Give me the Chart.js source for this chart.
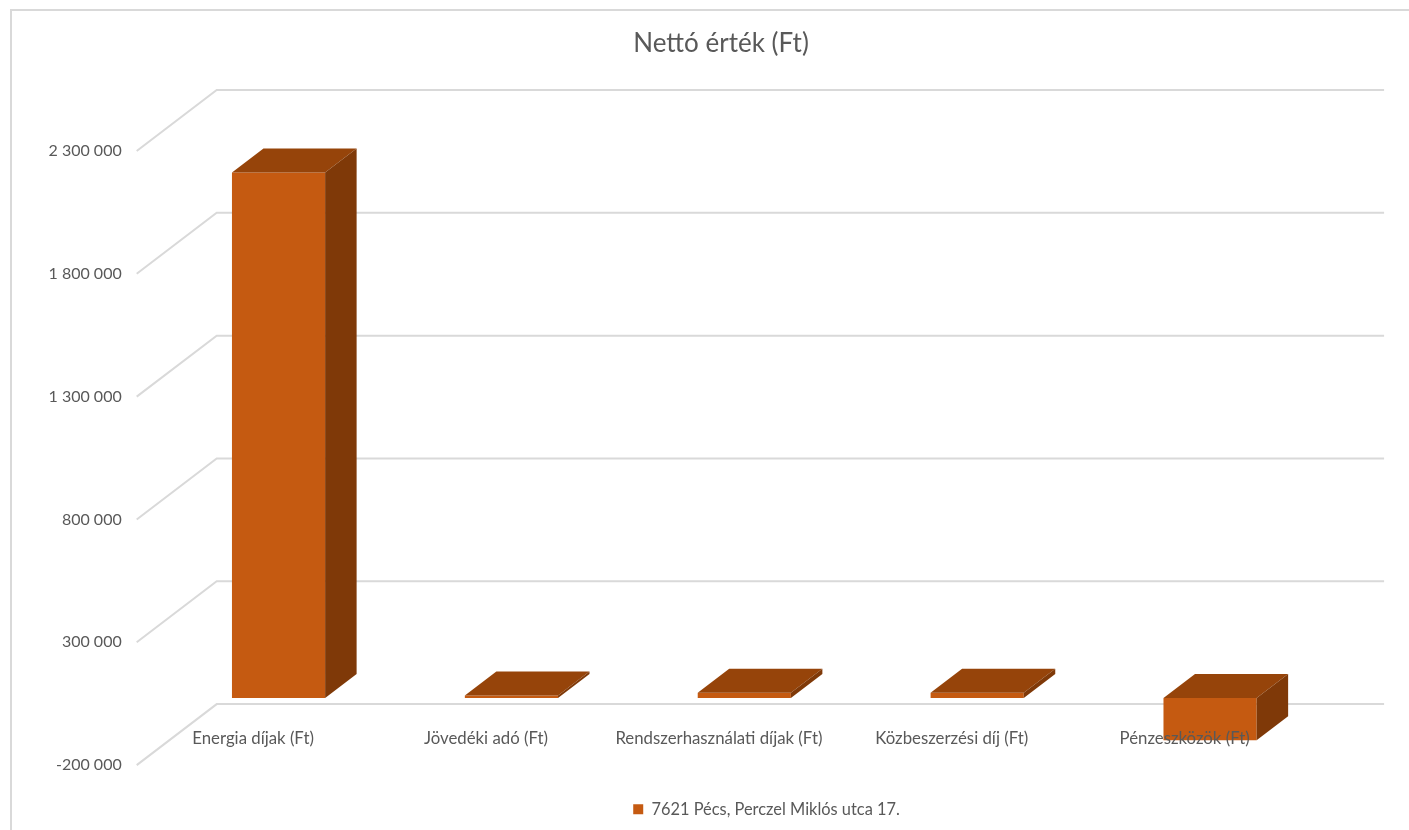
<!DOCTYPE html>
<html>
<head>
<meta charset="utf-8">
<title>Nettó érték (Ft)</title>
<script src="https://cdn.jsdelivr.net/npm/chart.js@4"></script>
<style>
    html, body { margin: 0; background: #fff; overflow: hidden; }
    #wrap { position: relative; width: 1409px; height: 830px; }
</style>
</head>
<body>
<div id="wrap"><canvas id="chart"></canvas></div>
<script>
const categories = ['Energia díjak (Ft)', 'Jövedéki adó (Ft)', 'Rendszerhasználati díjak (Ft)', 'Közbeszerzési díj (Ft)', 'Pénzeszközök (Ft)'];
const seriesName = '7621 Pécs, Perczel Miklós utca 17.';
const seriesValues = [2139000, 10000, 21500, 21000, -172000];
const yTicks = [-200000, 300000, 800000, 1300000, 1800000, 2300000];
const yTickLabels = ['-200 000', '300 000', '800 000', '1 300 000', '1 800 000', '2 300 000'];

const textColor = '#595959';
const gridColor = '#d9d9d9';
const frontColor = '#c55a11';
const topColor = '#96440a';
const sideColor = '#7f3908';

// fake 3D: wall sits behind the axis plane, bars sit part way in
const wallDepth = { x: 80, y: -61 };
const barOffset = { x: 25.4, y: -18 };
const barDepth = { x: 31.5, y: -24 };

function polygon(ctx, points, color) {
    ctx.fillStyle = color;
    ctx.beginPath();
    points.forEach((p, i) => i ? ctx.lineTo(p[0], p[1]) : ctx.moveTo(p[0], p[1]));
    ctx.closePath();
    ctx.fill();
}

const shiftBoxes = {
    id: 'shiftBoxes',
    afterLayout(chart) {
        // the original frame runs past the window, so title and legend sit right of centre
        chart.titleBlock.left += 70.5;
        chart.titleBlock.right += 70.5;
        chart.legend.left += 116;
        chart.legend.right += 116;
        chart.legend.top += 32;
        chart.legend.bottom += 32;
    }
};

const wall = {
    id: 'wall',
    beforeDraw(chart) {
        const ctx = chart.ctx;
        const area = chart.chartArea;
        const y = chart.scales.y;
        ctx.save();
        ctx.fillStyle = gridColor;
        ctx.fillRect(10, 9, chart.width, 2);
        ctx.fillRect(10, 9, 2, chart.height);
        ctx.strokeStyle = gridColor;
        ctx.lineWidth = 2;
        yTicks.forEach(v => {
            const py = y.getPixelForValue(v);
            ctx.beginPath();
            ctx.moveTo(area.left, py);
            ctx.lineTo(area.left + wallDepth.x, py + wallDepth.y);
            ctx.lineTo(area.right + wallDepth.x + 3, py + wallDepth.y);
            ctx.stroke();
        });
        ctx.restore();
    }
};

const bars3d = {
    id: 'bars3d',
    beforeDatasetsDraw(chart) {
        chart.ctx.save();
        chart.ctx.translate(barOffset.x, barOffset.y);
    },
    afterDatasetsDraw(chart) {
        const ctx = chart.ctx;
        chart.getDatasetMeta(0).data.forEach(bar => {
            const p = bar.getProps(['x', 'y', 'base', 'width'], true);
            const l = p.x - p.width / 2;
            const r = p.x + p.width / 2;
            const t = Math.min(p.y, p.base);
            const b = Math.max(p.y, p.base);
            polygon(ctx, [[l, t], [r, t], [r + barDepth.x, t + barDepth.y], [l + barDepth.x, t + barDepth.y]], topColor);
            polygon(ctx, [[r, t], [r + barDepth.x, t + barDepth.y], [r + barDepth.x, b + barDepth.y], [r, b]], sideColor);
        });
        ctx.restore();
    }
};

new Chart(document.getElementById('chart'), {
    type: 'bar',
    data: {
        labels: categories,
        datasets: [{
            label: seriesName,
            data: seriesValues,
            backgroundColor: frontColor,
            borderWidth: 0,
            barPercentage: 0.4,
            categoryPercentage: 1,
            clip: false
        }]
    },
    options: {
        responsive: true,
        maintainAspectRatio: false,
        animation: false,
        layout: { padding: { left: 0, right: 107.9, bottom: 34.5 } },
        plugins: {
            title: {
                display: true,
                text: 'Nettó érték (Ft)',
                color: textColor,
                font: { family: 'Lato', size: 26, weight: 'normal' },
                padding: { top: 28, bottom: 91.8 }
            },
            legend: {
                position: 'bottom',
                labels: {
                    color: textColor,
                    font: { family: 'Lato', size: 16.4 },
                    boxWidth: 10,
                    boxHeight: 10,
                    padding: 4
                }
            },
            tooltip: { enabled: false }
        },
        scales: {
            x: {
                position: { y: 0 },
                grid: { display: false, drawTicks: false },
                border: { display: false },
                ticks: {
                    z: 1,
                    color: textColor,
                    font: { family: 'Lato', size: 16.8 },
                    padding: 13,
                    maxRotation: 0,
                    autoSkip: false
                }
            },
            y: {
                min: -200000,
                max: 2300000,
                afterBuildTicks: axis => { axis.ticks = yTicks.map(value => ({ value })); },
                afterFit: axis => { axis.width = 136.7; },
                grid: { display: false, drawTicks: false },
                border: { display: false },
                ticks: {
                    color: textColor,
                    font: { family: 'Lato', size: 16 },
                    padding: 15,
                    callback: value => yTickLabels[yTicks.indexOf(value)]
                }
            }
        }
    },
    plugins: [shiftBoxes, wall, bars3d]
});
</script>
</body>
</html>
